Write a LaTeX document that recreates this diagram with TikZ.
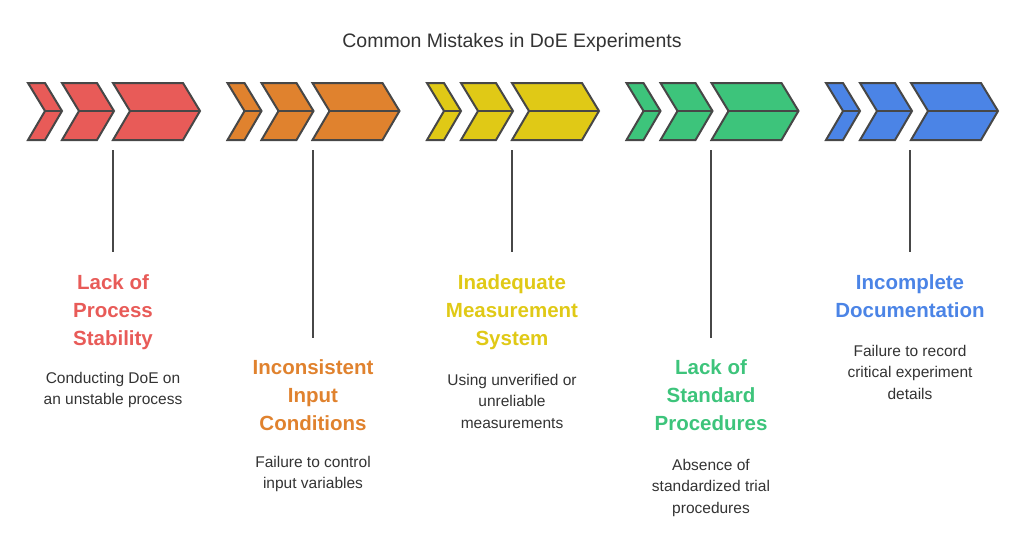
\documentclass[tikz,border=0pt]{standalone}
\usepackage{fontspec}
\setmainfont{Liberation Sans}
\definecolor{cred}{HTML}{E85B58}
\definecolor{corange}{HTML}{E0822E}
\definecolor{cyellow}{HTML}{E0C916}
\definecolor{cgreen}{HTML}{3DC47B}
\definecolor{cblue}{HTML}{4B84E6}
\definecolor{cedge}{HTML}{474747}
\newcommand{\chev}[3]{% left x, width, colour
  \filldraw[chevron, fill=#3] (#1,83) -- ++(#2,0) -- ++(17,28) -- ++(-17,29) -- ++(-#2,0) -- ++(17,-29) -- cycle;
  \draw[chevron] (#1+17,111) -- ++(#2,0);}
\begin{document}
\begin{tikzpicture}[x=1pt, y=-1pt,
    chevron/.style={draw=cedge, line width=2pt, line join=miter},
    stem/.style={draw=cedge, line width=1.6pt},
    head/.style={font=\fontsize{20.5}{28}\selectfont\bfseries, align=center, anchor=north, inner sep=0},
    desc/.style={font=\fontsize{15.5}{21.5}\selectfont, text=black!80, align=center, anchor=north, inner sep=0}]
  \useasboundingbox (0,0) rectangle (1024,552);
  \node[font=\fontsize{19.5}{22}\selectfont, text=black!80] (title) at (512,42) {Common Mistakes in DoE Experiments};

  \foreach \i/\col in {0/cred,1/corange,2/cyellow,3/cgreen,4/cblue} {
    \chev{28+199.5*\i}{17}{\col}
    \chev{62+199.5*\i}{35}{\col}
    \chev{113+199.5*\i}{70}{\col}
  }

  \node[head, text=cred] (h1) at (113,274) {Lack of\\Process\\Stability};
  \node[desc] (d1) at (113,372) {Conducting DoE on\\an unstable process};
  \node[head, text=corange] (h2) at (313,359) {Inconsistent\\Input\\Conditions};
  \node[desc] (d2) at (313,456) {Failure to control\\input variables};
  \node[head, text=cyellow] (h3) at (512,274) {Inadequate\\Measurement\\System};
  \node[desc] (d3) at (512,374) {Using unverified or\\unreliable\\measurements};
  \node[head, text=cgreen] (h4) at (711,359) {Lack of\\Standard\\Procedures};
  \node[desc] (d4) at (711,459) {Absence of\\standardized trial\\procedures};
  \node[head, text=cblue] (h5) at (910,274) {Incomplete\\Documentation};
  \node[desc] (d5) at (910,345) {Failure to record\\critical experiment\\details};

  \coordinate (t1) at (113,150); \coordinate (e1) at (113,252);
  \coordinate (t2) at (313,150); \coordinate (e2) at (313,338);
  \coordinate (t3) at (512,150); \coordinate (e3) at (512,252);
  \coordinate (t4) at (711,150); \coordinate (e4) at (711,338);
  \coordinate (t5) at (910,150); \coordinate (e5) at (910,252);
  \foreach \i in {1,...,5} \draw[stem] (t\i) -- (e\i);
\end{tikzpicture}
\end{document}
